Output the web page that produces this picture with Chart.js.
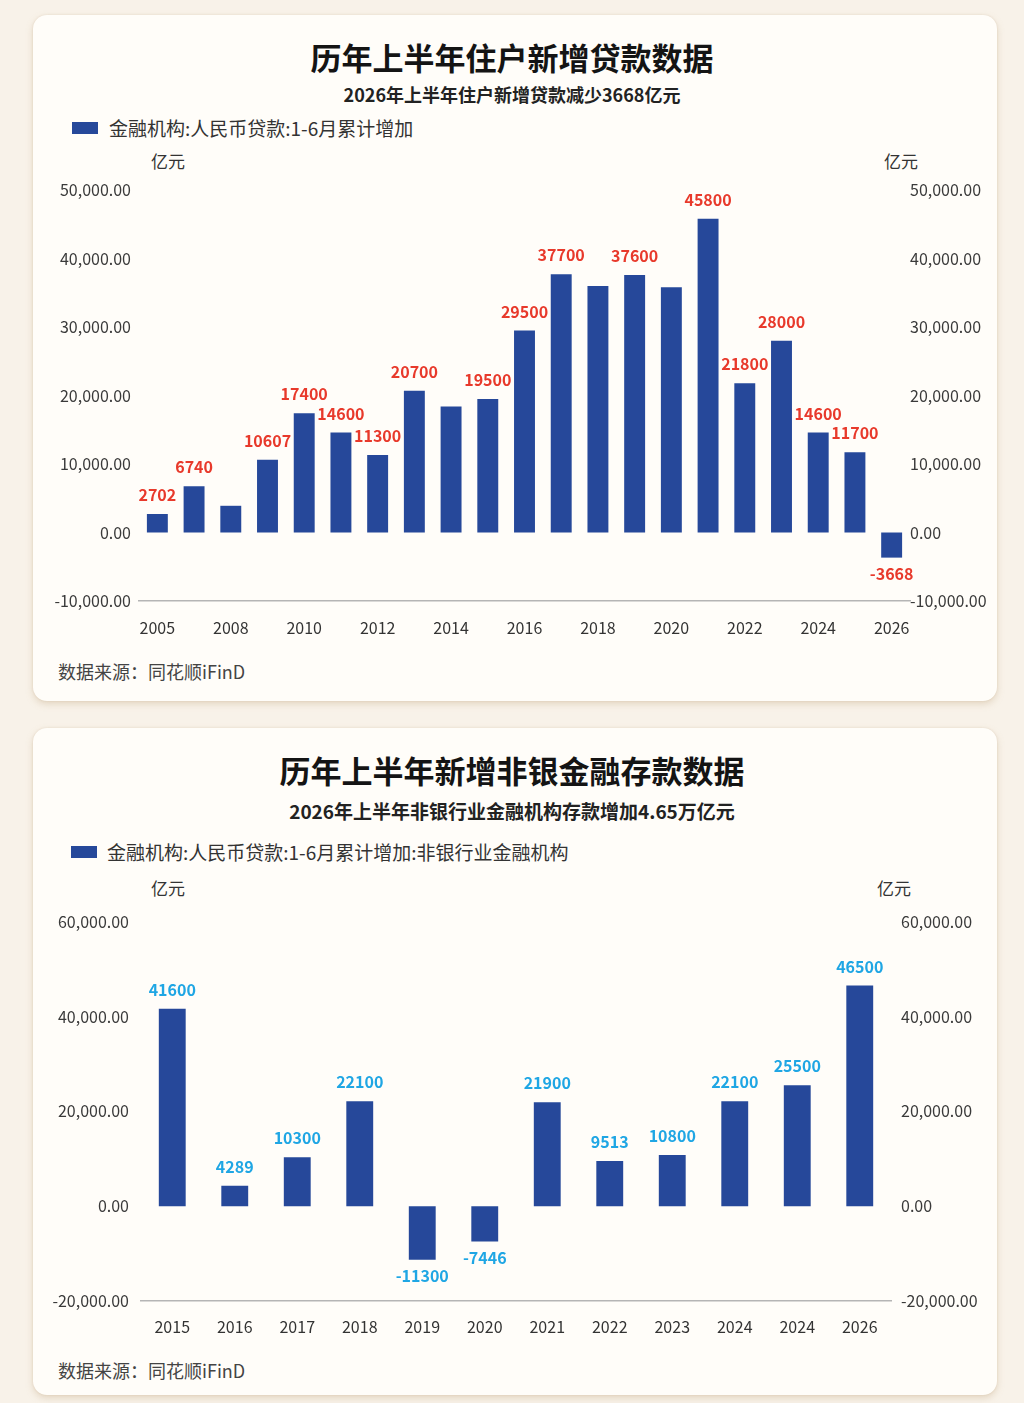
<!DOCTYPE html>
<html>
<head>
<meta charset="utf-8">
<script src="https://cdn.jsdelivr.net/npm/chart.js@4.4.1/dist/chart.umd.min.js"></script>
<style>
  html, body { margin:0; padding:0; }
  body { width:1024px; height:1403px; background:#f8f2e9; position:relative; overflow:hidden;
         font-family:"Noto Sans CJK SC","Noto Sans",sans-serif; }
  .card { position:absolute; left:33px; width:964px; background:#fffdf9; border-radius:14px;
          box-shadow:0 3px 7px rgba(190,160,120,0.35), 0 0 2px rgba(190,160,120,0.25); }
  .abs { position:absolute; white-space:nowrap; }
  .title { left:0; width:1024px; text-align:center; font-weight:700; font-size:31px; line-height:34px; color:#141414; }
  .sub { left:0; width:1024px; text-align:center; font-weight:700; font-size:18px; line-height:22px; color:#222; }
  .swatch { width:26px; height:12px; background:#26489a; }
  .leg { font-size:19px; line-height:22px; color:#333; }
  .unit { font-size:17px; line-height:20px; color:#333; }
  .src { font-size:18px; line-height:20px; color:#444; }
  .cv { position:absolute; left:33px; width:964px; }
</style>
</head>
<body>
<div class="card" style="top:15px;height:686px;"></div>
<div class="card" style="top:728px;height:667px;"></div>

<div class="abs title" style="top:40px;">历年上半年住户新增贷款数据</div>
<div class="abs sub" style="top:83px;">2026年上半年住户新增贷款减少3668亿元</div>
<div class="abs swatch" style="left:72px;top:122px;"></div>
<div class="abs leg" style="left:109px;top:117px;">金融机构:人民币贷款:1-6月累计增加</div>
<div class="abs unit" style="left:151px;top:151px;">亿元</div>
<div class="abs unit" style="left:884px;top:151px;">亿元</div>
<div class="abs src" style="left:58px;top:661px;">数据来源：同花顺iFinD</div>
<div class="cv" style="top:170px;height:480px;"><canvas id="c1"></canvas></div>

<div class="abs title" style="top:753px;">历年上半年新增非银金融存款数据</div>
<div class="abs sub" style="top:800px;font-size:19px;">2026年上半年非银行业金融机构存款增加4.65万亿元</div>
<div class="abs swatch" style="left:71px;top:846px;"></div>
<div class="abs leg" style="left:107px;top:841px;">金融机构:人民币贷款:1-6月累计增加:非银行业金融机构</div>
<div class="abs unit" style="left:151px;top:878px;">亿元</div>
<div class="abs unit" style="left:877px;top:878px;">亿元</div>
<div class="abs src" style="left:58px;top:1360px;">数据来源：同花顺iFinD</div>
<div class="cv" style="top:900px;height:450px;"><canvas id="c2"></canvas></div>

<script>
// ---------- Chart 1 data ----------
const years1 = ['2006','2007','2008','2009','2010','2011','2012','2013','2014','2015','2016',
                '2017','2018','2019','2020','2021','2022','2023','2024','2025','2026'];
const values1 = [2702, 6740, 3900, 10607, 17400, 14600, 11300, 20700, 18400, 19500, 29500,
                 37700, 36000, 37600, 35800, 45800, 21800, 28000, 14600, 11700, -3668];
const labels1 = ['2702','6740',null,'10607','17400','14600','11300','20700',null,'19500','29500',
                 '37700',null,'37600',null,'45800','21800','28000','14600','11700','-3668'];
const xTicks1 = ['2005','2008','2010','2012','2014','2016','2018','2020','2022','2024','2026'];
const yMin1 = -10000, yMax1 = 50000, yStep1 = 10000;

// ---------- Chart 2 data ----------
const years2 = ['2015','2016','2017','2018','2019','2020','2021','2022','2023','2024','2024','2026'];
const values2 = [41600, 4289, 10300, 22100, -11300, -7446, 21900, 9513, 10800, 22100, 25500, 46500];
const labels2 = ['41600','4289','10300','22100','-11300','-7446','21900','9513','10800','22100','25500','46500'];
const yMin2 = -20000, yMax2 = 60000, yStep2 = 20000;

const FONT = '"Noto Sans CJK SC","Noto Sans",sans-serif';
const BAR = '#26489a';

const valueLabels = {
  id: 'valueLabels',
  afterDatasetsDraw(chart, args, opts) {
    const ctx = chart.ctx;
    const meta = chart.getDatasetMeta(0);
    const data = chart.data.datasets[0].data;
    ctx.save();
    ctx.font = 'bold 16px ' + FONT;
    ctx.fillStyle = opts.color;
    ctx.textAlign = 'center';
    ctx.textBaseline = 'middle';
    meta.data.forEach((bar, i) => {
      const t = opts.labels[i];
      if (t == null) return;
      const y = data[i] >= 0 ? bar.y - 19 : bar.y + 16;
      ctx.fillText(t, bar.x, y);
    });
    ctx.restore();
  }
};

const fmt = v => Number(v).toLocaleString('en-US', {minimumFractionDigits:2, maximumFractionDigits:2});

function makeChart(id, cats, vals, labs, color, yMin, yMax, yStep, leftW, rightW, leftPad, rightPad, barPct, xPad, xCb) {
  return new Chart(document.getElementById(id), {
    type: 'bar',
    data: { labels: cats, datasets: [{ data: vals, backgroundColor: BAR, borderWidth: 0,
            barPercentage: barPct, categoryPercentage: 1.0, yAxisID: 'y' }] },
    options: {
      responsive: true, maintainAspectRatio: false, animation: false,
      layout: { padding: { top: 20, left: 0, right: 0, bottom: 0 } },
      plugins: { legend: { display: false }, tooltip: { enabled: false },
                 valueLabels: { labels: labs, color: color } },
      scales: {
        x: {
          grid: { display: false, drawTicks: false },
          border: { display: true, color: '#b5b5b5', width: 1.5 },
          ticks: { autoSkip: false, maxRotation: 0, padding: xPad, color: '#333',
                   font: { family: FONT, size: 16 }, callback: xCb },
          afterFit: s => { s.height = 49; }
        },
        y: {
          position: 'left', min: yMin, max: yMax,
          grid: { display: false, drawTicks: false }, border: { display: false },
          ticks: { stepSize: yStep, padding: leftPad, color: '#3a3a3a', font: { family: FONT, size: 16 }, callback: fmt },
          afterFit: s => { s.width = leftW; }
        },
        y2: {
          position: 'right', min: yMin, max: yMax,
          grid: { display: false, drawTicks: false }, border: { display: false },
          ticks: { stepSize: yStep, padding: rightPad, color: '#3a3a3a', font: { family: FONT, size: 16 }, callback: fmt },
          afterFit: s => { s.width = rightW; }
        }
      }
    },
    plugins: [valueLabels]
  });
}

makeChart('c1', years1, values1, labels1, '#e8392b', yMin1, yMax1, yStep1, 106, 87, 8, 0, 0.57, 17,
  (v, i) => (i % 2 === 0 ? xTicks1[i / 2] : ''));
makeChart('c2', years2, values2, labels2, '#1fa6e4', yMin2, yMax2, yStep2, 108, 106, 12, 10, 0.43, 16,
  (v, i) => years2[i]);
</script>
</body>
</html>
